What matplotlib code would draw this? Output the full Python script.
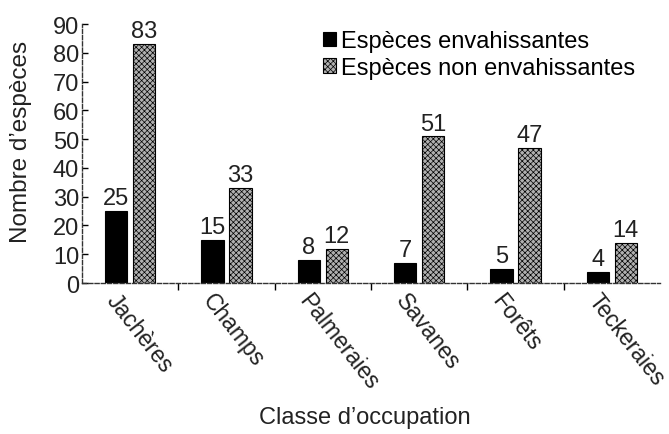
import matplotlib
matplotlib.use("Agg")
import matplotlib.pyplot as plt
import numpy as np

categories = ["Jachères", "Champs", "Palmeraies", "Savanes", "Forêts", "Teckeraies"]
invasive = [25, 15, 8, 7, 5, 4]
non_invasive = [83, 33, 12, 51, 47, 14]
yticks = [0, 10, 20, 30, 40, 50, 60, 70, 80, 90]

plt.rcParams['font.family'] = ['Liberation Sans', 'DejaVu Sans']
plt.rcParams['hatch.color'] = '#4a4a4a'
plt.rcParams['hatch.linewidth'] = 0.5

fig = plt.figure(figsize=(6.69, 4.35), dpi=100)
ax = fig.add_axes([0.1226, 0.347, 0.864, 0.5955])

x = np.arange(len(categories))
w = 0.23
gap = 0.03
ax.bar(x - w / 2 - gap, invasive, w, color='black', edgecolor='black', linewidth=0.8,
       label='Espèces envahissantes')
ax.bar(x + w / 2 + gap, non_invasive, w, color='#b0b0b0', edgecolor='black', linewidth=0.8,
       hatch='xxxxxx', label='Espèces non envahissantes')

fs = 17
tc = '#222222'
for xi, v in zip(x - w / 2 - gap, invasive):
    ax.text(xi, v + 0.6, str(v), ha='center', va='bottom', fontsize=fs, color=tc)
for xi, v in zip(x + w / 2 + gap, non_invasive):
    ax.text(xi, v + 0.6, str(v), ha='center', va='bottom', fontsize=fs, color=tc)

ax.set_xlim(-0.5, 5.5)
ax.set_ylim(0, 90)
ax.set_yticks(yticks)
ax.set_yticklabels([str(t) for t in yticks], fontsize=fs, color=tc)
ax.tick_params(axis='y', direction='in', length=4, width=1, pad=2)

ax.set_xticks(x[:-1] + 0.5)
ax.set_xticklabels([])
ax.tick_params(axis='x', direction='out', length=5, width=1)

for i, c in enumerate(categories):
    ax.text(i - 0.2, -4.6, c, rotation=-52, rotation_mode='anchor', ha='left', va='center',
            fontsize=16.5, color=tc, transform=ax.transData, clip_on=False)

for s in ['top', 'right']:
    ax.spines[s].set_visible(False)
for s in ['left', 'bottom']:
    ax.spines[s].set_linestyle((0, (3, 1.5)))
    ax.spines[s].set_linewidth(1.0)
    ax.spines[s].set_color('#333333')

ax.set_ylabel("Nombre d’espèces", fontsize=17.5, color=tc)
ax.yaxis.set_label_coords(-0.087, 0.548)
fig.text(0.545, 0.04, "Classe d’occupation", ha='center', va='center', fontsize=fs, color=tc)

ax.legend(loc='upper left', bbox_to_anchor=(0.388, 1.04), frameon=False, fontsize=fs,
          handlelength=0.55, handleheight=0.55, handletextpad=0.2, labelspacing=0.2,
          borderpad=0.2)

fig.savefig("out.png", dpi=100)
